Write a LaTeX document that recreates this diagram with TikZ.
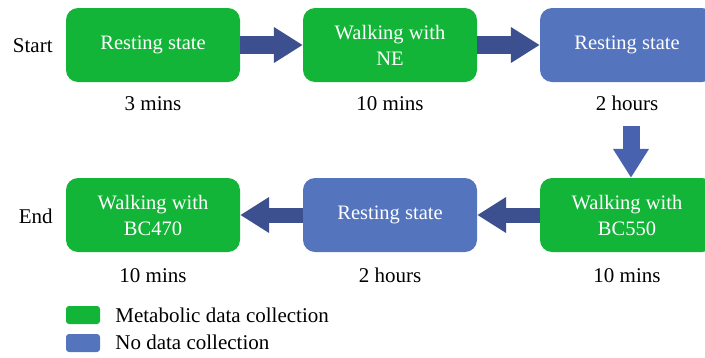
\documentclass[tikz,border=0pt]{standalone}
\usepackage{fontspec}
\setmainfont{Liberation Serif}
\usetikzlibrary{arrows.meta}
\definecolor{boxgreen}{RGB}{19,181,56}
\definecolor{boxblue}{RGB}{84,116,190}
\definecolor{arrdark}{RGB}{60,79,142}
\definecolor{arrblue}{RGB}{72,98,176}
\tikzset{
  stage/.style={rectangle,rounded corners=12pt,minimum width=174pt,minimum height=74pt,
    inner sep=0pt,align=center,text=white,font=\fontsize{20.5}{26}\selectfont},
  collect/.style={stage,fill=boxgreen},
  nocollect/.style={stage,fill=boxblue},
  lbl/.style={inner sep=0pt,font=\fontsize{21}{26}\selectfont},
  fat/.style={line width=18pt,-{Triangle[length=29pt,width=34pt]}},
  key/.style={rectangle,rounded corners=3pt,minimum width=34pt,minimum height=18pt,inner sep=0pt}
}
\begin{document}
\begin{tikzpicture}[x=1pt,y=-1pt]
\useasboundingbox (0,0) rectangle (705,357);
\node[collect] (b1) at (153,45) {Resting state};
\node[collect] (b2) at (390,45) {Walking with\\NE};
\node[nocollect] (b3) at (627,45) {Resting state};
\node[collect] (b4) at (153,215) {Walking with\\BC470};
\node[nocollect] (b5) at (390,215) {Resting state};
\node[collect] (b6) at (627,215) {Walking with\\BC550};

\node[lbl] (t1) at ([yshift=-21pt]b1.south) {3 mins};
\node[lbl] (t2) at ([yshift=-21pt]b2.south) {10 mins};
\node[lbl] (t3) at ([yshift=-21pt]b3.south) {2 hours};
\node[lbl] (t4) at ([yshift=-23pt]b4.south) {10 mins};
\node[lbl] (t5) at ([yshift=-23pt]b5.south) {2 hours};
\node[lbl] (t6) at ([yshift=-23pt]b6.south) {10 mins};

\node[lbl,anchor=east] (start) at ([xshift=-13pt,yshift=-1pt]b1.west) {Start};
\node[lbl,anchor=east] (end) at ([xshift=-13pt,yshift=-1pt]b4.west) {End};

\draw[fat,arrdark] (b1.east) -- (b2.west);
\draw[fat,arrdark] (b2.east) -- (b3.west);
\coordinate (down) at ([xshift=4pt,yshift=-44pt]b3.south);
\draw[fat,arrblue,line width=17pt] (down) -- (down|-b6.north);
\draw[fat,arrdark,line width=15pt] (b6.west) -- (b5.east);
\draw[fat,arrdark,line width=15pt] (b5.west) -- (b4.east);

\node[key,fill=boxgreen] (k1) at (83,315) {};
\node[key,fill=boxblue] (k2) at (83,343) {};
\node[lbl,anchor=west] (k1t) at ([xshift=15pt]k1.east) {Metabolic data collection};
\node[lbl,anchor=west] (k2t) at ([xshift=15pt,yshift=1pt]k2.east) {No data collection};
\end{tikzpicture}
\end{document}
